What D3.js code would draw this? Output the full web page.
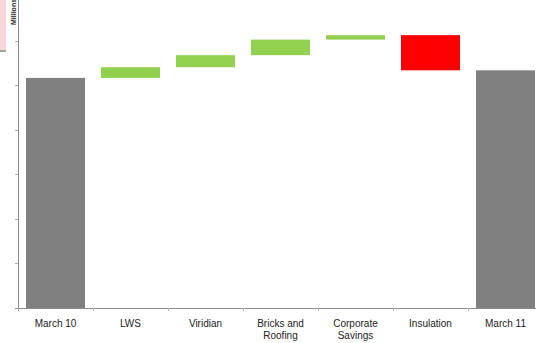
<!DOCTYPE html>
<html>
<head>
<meta charset="utf-8">
<script src="https://cdn.jsdelivr.net/npm/d3@7"></script>
<style>
  body { margin: 0; background: #fff; }
  svg { display: block; font-family: "Liberation Sans", Arial, sans-serif; }
</style>
</head>
<body>
<div class="chart"></div>
<script>
// waterfall data, in millions
var categories = ["March 10", "LWS", "Viridian", "Bricks and|Roofing", "Corporate|Savings", "Insulation", "March 11"];
var kinds      = ["total", "delta", "delta", "delta", "delta", "delta", "total"];
var values     = [51.7, 2.4, 2.7, 3.5, 1.0, -7.9, 53.4];
var yTicks     = [0, 10, 20, 30, 40, 50, 60];

var width  = 536,
    height = 343;

var left   = 18,
    bottom = 308;

// build start/end for each bar
var bars = [];
var running = 0;
for (var i = 0; i < categories.length; i++) {
  var b = { name: categories[i], kind: kinds[i], value: values[i] };
  if (kinds[i] == "total") {
    b.start = 0;
    b.end   = values[i];
    running = values[i];
  } else {
    b.start = running;
    b.end   = running + values[i];
    running = b.end;
  }
  bars.push(b);
}

var svg = d3.select(".chart")
            .append("svg")
            .attr("width", width)
            .attr("height", height);

var x = d3.scaleBand()
          .domain(categories)
          .range([left, left + 75 * categories.length])
          .paddingInner(0.2133)
          .paddingOuter(0.1067);

var y = d3.scaleLinear()
          .domain([0, 69.2])
          .range([bottom, 0]);

var step = x.step();

// stub of something cut off at the left edge
svg.append("rect").attr("x", 0).attr("y", 0).attr("width", 6).attr("height", 50).attr("fill", "#fad4d7");
svg.append("rect").attr("x", 0).attr("y", 50).attr("width", 6).attr("height", 2).attr("fill", "#a0a0a0");

svg.append("text")
   .attr("transform", "translate(16,25) rotate(-90)")
   .attr("font-size", "7px")
   .attr("font-weight", "bold")
   .attr("fill", "#222")
   .text("Millions");

// bars
svg.selectAll("rect.bar")
   .data(bars)
   .enter()
   .append("rect")
   .attr("class", "bar")
   .attr("x", function (d) { return x(d.name); })
   .attr("width", x.bandwidth())
   .attr("y", function (d) { return y(Math.max(d.start, d.end)); })
   .attr("height", function (d) { return Math.abs(y(d.start) - y(d.end)); })
   .attr("fill", function (d) {
     if (d.kind == "total") return "#808080";
     return d.value < 0 ? "#ff0000" : "#92d050";
   });

// y axis
svg.append("line")
   .attr("x1", left + 0.5).attr("x2", left + 0.5)
   .attr("y1", 0).attr("y2", bottom)
   .attr("stroke", "#8c8c8c");

svg.selectAll("line.ytick")
   .data(yTicks)
   .enter()
   .append("line")
   .attr("class", "ytick")
   .attr("x1", left - 3).attr("x2", left)
   .attr("y1", function (d) { return Math.round(y(d)) + 0.5; })
   .attr("y2", function (d) { return Math.round(y(d)) + 0.5; })
   .attr("stroke", "#b0b0b0");

// x axis
svg.append("line")
   .attr("x1", left - 3).attr("x2", width)
   .attr("y1", bottom + 0.5).attr("y2", bottom + 0.5)
   .attr("stroke", "#8c8c8c");

var bounds = categories.map(function (c) { return x(c) - step * x.paddingInner() / 2; });
svg.selectAll("line.xtick")
   .data(bounds)
   .enter()
   .append("line")
   .attr("class", "xtick")
   .attr("x1", function (d) { return Math.round(d) + 0.5; })
   .attr("x2", function (d) { return Math.round(d) + 0.5; })
   .attr("y1", bottom).attr("y2", bottom + 3)
   .attr("stroke", "#b0b0b0");

// category labels, "|" splits lines
var label = svg.selectAll("text.cat")
               .data(categories)
               .enter()
               .append("text")
               .attr("class", "cat")
               .attr("text-anchor", "middle")
               .attr("font-size", "10px")
               .attr("fill", "#222");

label.each(function (d) {
  var t = d3.select(this);
  var cx = x(d) + x.bandwidth() / 2;
  d.split("|").forEach(function (line, k) {
    t.append("tspan")
     .attr("x", cx)
     .attr("y", 327 + k * 11.5)
     .text(line);
  });
});
</script>
</body>
</html>
